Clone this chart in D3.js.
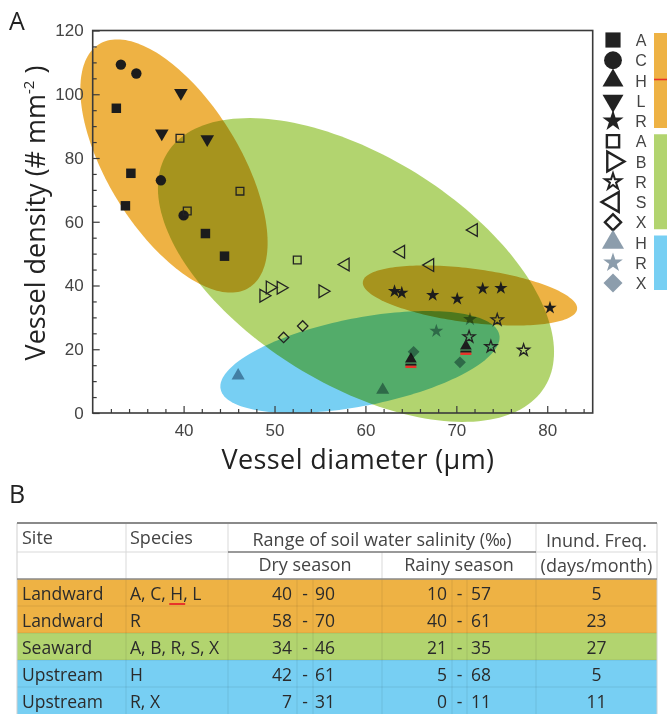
<!DOCTYPE html>
<html><head><meta charset="utf-8">
<script src="https://cdn.jsdelivr.net/npm/d3@7"></script>
<style>
html,body{margin:0;padding:0;background:#fff;}
svg{display:block;isolation:isolate;}
</style></head><body>
<svg id="c" width="667" height="714"></svg>
<script>
// ---------------- DATA ----------------
const xTicks = [40, 50, 60, 70, 80];
const yTicks = [0, 20, 40, 60, 80, 100, 120];

// Landward (filled black symbols)
const landA = [[32.6,95.6],[34.2,75.2],[33.6,65.0],[42.4,56.3],[44.5,49.2]];
const landC = [[33.1,109.3],[34.8,106.5],[37.5,73.0],[40.0,62.0]];
const landH = [[65.0,16.9],[71.05,21.0]];
const landL = [[39.7,100.4],[37.6,87.7],[42.6,85.9]];
const landR = [[63.2,38.2],[64.0,37.7],[67.4,37.0],[70.1,35.8],[72.9,39.0],[74.9,39.2],[80.3,33.0]];
// Seaward (open symbols)
const seaA = [[39.6,86.2],[46.2,69.6],[40.4,63.4],[52.5,48.0]];
const seaB = [[48.8,36.8],[49.5,39.4],[50.7,39.3],[55.3,38.2]];
const seaR = [[74.5,29.2],[71.4,23.9],[73.8,20.8],[77.4,19.7]];
const seaS = [[57.8,46.6],[63.9,50.6],[67.1,46.4],[71.9,57.4]];
const seaX = [[51.0,23.7],[53.1,27.3]];
// Upstream (grey symbols)
const upH = [[46.0,11.7],[61.9,7.2]];
const upR = [[67.8,25.7],[71.5,29.4]];
const upX = [[65.3,19.2],[70.4,15.9]];

// Group ellipses in data units: centre, and two conjugate semi-axis vectors
const ellSeaward  = {c:[58.96,44.86], u:[20.76,-36.71], v:[-6.61,-30.40]};
const ellLandward = {c:[38.94,77.49], u:[8.24,-38.21],  v:[-6.18,-10.85]};
const ellLandR    = {c:[71.50,36.86], u:[11.78,-4.30],  v:[-0.38,-8.40]};
const ellUpstream = {c:[59.40,16.00], u:[15.33,8.50],   v:[0.92,-13.55]};

// Legend
const legendLetters = ['A','C','H','L','R','A','B','R','S','X','H','R','X'];

// Table B
const tableSite    = ['Landward','Landward','Seaward','Upstream','Upstream'];
const tableSpecies = ['A, C, H, L','R','A, B, R, S, X','H','R, X'];
const dryMin   = [40, 58, 34, 42, 7];
const dryMax   = [90, 70, 46, 61, 31];
const rainyMin = [10, 40, 21, 5, 0];
const rainyMax = [57, 61, 35, 68, 11];
const inundFreq = [5, 23, 27, 5, 11];

// ---------------- STYLE ----------------
const COL = {land:'#EEB244', sea:'#B2D46F', up:'#77CFF3', grey:'#8C9DAC', red:'#E8342A', ink:'#1c1c1c'};
const svg = d3.select('#c');
const FONT_AX = "'Liberation Sans', Arial, sans-serif";
const FONT_T = "'Open Sans', sans-serif";

const x = d3.scaleLinear().domain([30,85]).range([92.7,592.7]);
const y = d3.scaleLinear().domain([0,120]).range([413,30.5]);

// ---- ellipses ----
const ellLayer = svg.append('g');
const ellList = [
  {e:ellSeaward, fill:COL.sea, blend:'normal'},
  {e:ellLandward, fill:COL.land, blend:'multiply'},
  {e:ellLandR, fill:COL.land, blend:'multiply'},
  {e:ellUpstream, fill:COL.up, blend:'multiply'}
];
const lineGen = d3.line().x(p=>x(p[0])).y(p=>y(p[1])).curve(d3.curveLinearClosed);
ellList.forEach(o=>{
  const e=o.e;
  const pts = d3.range(0,360,2).map(a=>{const t=a*Math.PI/180;
    return [e.c[0]+e.u[0]*Math.cos(t)+e.v[0]*Math.sin(t), e.c[1]+e.u[1]*Math.cos(t)+e.v[1]*Math.sin(t)];});
  ellLayer.append('path').attr('d',lineGen(pts)).attr('fill',o.fill).style('mix-blend-mode',o.blend);
});

// ---- axes ----
function styleAxis(g){
  g.selectAll('.domain').remove();
  g.selectAll('line').attr('stroke','#3a3a3a').attr('stroke-width',1.2);
  g.selectAll('text').attr('font-family',FONT_AX).attr('font-size',17).attr('fill','#444');
}
const gx = svg.append('g').attr('transform',`translate(0,${y(0)})`)
  .call(d3.axisBottom(x).tickValues(xTicks).tickSize(-7).tickPadding(11).tickFormat(d3.format('d')));
styleAxis(gx);
const gxm = svg.append('g').attr('transform',`translate(0,${y(0)})`)
  .call(d3.axisBottom(x).tickValues(d3.range(32,85,2).filter(v=>v%10)).tickSize(-4).tickFormat(''));
styleAxis(gxm);
const gy = svg.append('g').attr('transform',`translate(${x(30)},0)`)
  .call(d3.axisLeft(y).tickValues(yTicks).tickSize(-7).tickPadding(9).tickFormat(d3.format('d')));
styleAxis(gy);
const gym = svg.append('g').attr('transform',`translate(${x(30)},0)`)
  .call(d3.axisLeft(y).tickValues(d3.range(5,120,5).filter(v=>v%20)).tickSize(-4).tickFormat(''));
styleAxis(gym);
svg.append('rect').attr('x',x(30)).attr('y',y(120)).attr('width',x(85)-x(30)).attr('height',y(0)-y(120))
  .attr('fill','none').attr('stroke','#3a3a3a').attr('stroke-width',1.6);

// ---- symbols ----
const SHAPES = {
  square:{t:d3.symbolSquare, r:0}, circle:{t:d3.symbolCircle, r:0},
  triUp:{t:d3.symbolTriangle, r:0}, triDown:{t:d3.symbolTriangle, r:180},
  star:{t:d3.symbolStar, r:0}, triRight:{t:d3.symbolTriangle, r:90},
  triLeft:{t:d3.symbolTriangle, r:-90}, diamond:{t:d3.symbolSquare, r:45}
};
const series = [
  {pts:landA, shape:'square', kind:'land', size:90},
  {pts:landC, shape:'circle', kind:'land', size:85},
  {pts:landH, shape:'triUp', kind:'landH', size:60},
  {pts:landL, shape:'triDown', kind:'land', size:80},
  {pts:landR, shape:'star', kind:'land', size:55},
  {pts:seaA, shape:'square', kind:'sea', size:60},
  {pts:seaB, shape:'triRight', kind:'sea', size:70},
  {pts:seaR, shape:'star', kind:'sea', size:45},
  {pts:seaS, shape:'triLeft', kind:'sea', size:70},
  {pts:seaX, shape:'diamond', kind:'sea', size:55},
  {pts:upH, shape:'triUp', kind:'up', size:75},
  {pts:upR, shape:'star', kind:'up', size:60},
  {pts:upX, shape:'diamond', kind:'up', size:70}
];
function paint(sel, kind, sw){
  if(kind==='sea'){ sel.attr('fill','none').attr('stroke','#222').attr('stroke-width',sw); }
  else if(kind==='up'){ sel.attr('fill',COL.grey); }
  else { sel.attr('fill',COL.ink); }
}
const ptLayer = svg.append('g');
series.forEach(s=>{
  const sh = SHAPES[s.shape];
  if(s.kind==='landH'){
    s.pts.forEach(p=>{
      ptLayer.append('rect').attr('x',x(p[0])-5.5).attr('y',y(p[1])+4.5).attr('width',11).attr('height',2.2).attr('fill',COL.ink);
      ptLayer.append('rect').attr('x',x(p[0])-5.5).attr('y',y(p[1])+6.5).attr('width',11).attr('height',2.4).attr('fill',COL.red);
    });
  }
  const g = ptLayer.selectAll(null).data(s.pts).enter().append('path')
    .attr('d', d3.symbol().type(sh.t).size(s.size)())
    .attr('transform', p=>`translate(${x(p[0])},${y(p[1])}) rotate(${sh.r})`);
  paint(g, s.kind==='landH'?'land':s.kind, 1.3);
  if(s.kind==='up') g.style('mix-blend-mode','multiply');
});

// ---- axis titles & panel letters ----
svg.append('text').attr('x',358).attr('y',469).attr('text-anchor','middle')
  .attr('font-family',FONT_T).attr('font-size',27).attr('letter-spacing',0.4).attr('fill','#222')
  .text('Vessel diameter (\u00B5m)');
const yt = svg.append('text').attr('transform','translate(45,213) rotate(-90)').attr('text-anchor','middle')
  .attr('font-family',FONT_T).attr('font-size',27).attr('fill','#222');
yt.append('tspan').text('Vessel density (# mm');
yt.append('tspan').attr('font-size',15).attr('dy',-11).text('-2');
yt.append('tspan').attr('dy',11).text(' )');
svg.append('text').attr('x',9).attr('y',30).attr('font-family',FONT_T).attr('font-size',25).attr('fill','#222').text('A');
svg.append('text').attr('x',9).attr('y',503).attr('font-family',FONT_T).attr('font-size',25).attr('fill','#222').text('B');

// ---- legend ----
const legShapes = ['square','circle','triUp','triDown','star','square','triRight','star','triLeft','diamond','triUp','star','diamond'];
const legKinds  = ['land','land','land','land','land','sea','sea','sea','sea','sea','up','up','up'];
const legSizes  = [230,250,190,190,140,150,170,80,170,130,210,120,180];
const legY = i => 40 + i*20.25;
const lg = svg.append('g');
legendLetters.forEach((L,i)=>{
  const sh = SHAPES[legShapes[i]];
  const p = lg.append('path').attr('d', d3.symbol().type(sh.t).size(legSizes[i])())
    .attr('transform',`translate(613,${legY(i)}) rotate(${sh.r})`);
  paint(p, legKinds[i], legShapes[i]==='star'?2:2.4);
  if(legKinds[i]==='land') p.attr('fill','#222');
  lg.append('text').attr('x',641).attr('y',legY(i)+6).attr('text-anchor','middle')
    .attr('font-family',FONT_AX).attr('font-size',16).attr('fill','#444').text(L);
});
const barDefs = [{c:COL.land,a:0,b:4},{c:COL.sea,a:5,b:9},{c:COL.up,a:10,b:12}];
barDefs.forEach(b=>{
  lg.append('rect').attr('x',654).attr('y',legY(b.a)-7).attr('width',14)
    .attr('height',legY(b.b)-legY(b.a)+14).attr('fill',b.c);
});
lg.append('line').attr('x1',654).attr('x2',667).attr('y1',legY(2)-1).attr('y2',legY(2)-1)
  .attr('stroke',COL.red).attr('stroke-width',1.6);

// ---------------- TABLE ----------------
const T = {x0:17, x1:657, cSite:126, cSpec:228, cRain:382, cInund:536,
           dSep:[297,313], rSep:[452,467], top:523, h1:552, h2:579, rowH:27};
const tb = svg.append('g');
const siteColor = s => s==='Landward'?COL.land:(s==='Seaward'?COL.sea:COL.up);
tableSite.forEach((s,i)=>{
  const top = T.h2 + i*T.rowH;
  tb.append('rect').attr('x',T.x0).attr('y',top).attr('width',T.x1-T.x0).attr('height',T.rowH).attr('fill',siteColor(s));
});
const nRows = tableSite.length;
const yEnd = T.h2 + nRows*T.rowH;
const faint = 'rgba(0,0,0,0.09)';
[T.cSite,T.cSpec,...T.dSep,T.cRain,...T.rSep,T.cInund].forEach(cx=>{
  tb.append('line').attr('x1',cx).attr('x2',cx).attr('y1',T.h2).attr('y2',yEnd).attr('stroke',faint);
});
d3.range(1,nRows).forEach(i=>{
  tb.append('line').attr('x1',T.x0).attr('x2',T.x1).attr('y1',T.h2+i*T.rowH).attr('y2',T.h2+i*T.rowH).attr('stroke',faint);
});
const light = '#d9d9d9';
[T.cSite,T.cSpec,T.cInund].forEach(cx=>{
  tb.append('line').attr('x1',cx).attr('x2',cx).attr('y1',T.top).attr('y2',T.h2).attr('stroke',light);
});
tb.append('line').attr('x1',T.cRain).attr('x2',T.cRain).attr('y1',T.h1).attr('y2',T.h2).attr('stroke',light);
tb.append('line').attr('x1',T.x0).attr('x2',T.cSpec).attr('y1',T.h1).attr('y2',T.h1).attr('stroke',light);
tb.append('line').attr('x1',T.cInund).attr('x2',T.x1).attr('y1',T.h1).attr('y2',T.h1).attr('stroke',light);
tb.append('line').attr('x1',T.cSpec).attr('x2',T.cInund).attr('y1',T.h1).attr('y2',T.h1).attr('stroke','#777').attr('stroke-width',1.5);
[T.x0,T.x1].forEach(cx=>{
  tb.append('line').attr('x1',cx).attr('x2',cx).attr('y1',T.top).attr('y2',yEnd).attr('stroke','#cfcfcf');
});
tb.append('line').attr('x1',T.x0).attr('x2',T.x1).attr('y1',T.top).attr('y2',T.top).attr('stroke','#8a8a8a').attr('stroke-width',2);
tb.append('line').attr('x1',T.x0).attr('x2',T.x1).attr('y1',T.h2).attr('y2',T.h2).attr('stroke','#8a8a8a').attr('stroke-width',1.6);

function ttext(xp, yp, str, anchor, size, fill){
  return tb.append('text').attr('x',xp).attr('y',yp).attr('text-anchor',anchor||'start')
    .attr('font-family',FONT_T).attr('font-size',size||17.5).attr('fill',fill||'#2b2b2b').text(str);
}
ttext(22,544,'Site','start',18,'#444');
ttext(130,544,'Species','start',18,'#444');
ttext((T.cSpec+T.cInund)/2,546,'Range of soil water salinity (\u2030)','middle',18,'#444');
ttext((T.cInund+T.x1)/2,547,'Inund. Freq.','middle',18,'#444');
ttext((T.cSpec+T.cRain)/2,571,'Dry season','middle',18,'#444');
ttext((T.cRain+T.cInund)/2,571,'Rainy season','middle',18,'#444');
ttext((T.cInund+T.x1)/2,572,'(days/month)','middle',18,'#444');
tableSite.forEach((s,i)=>{
  const bl = T.h2 + i*T.rowH + 21;
  ttext(22,bl,s);
  const sp = ttext(130,bl,tableSpecies[i]);
  const hi = tableSpecies[i].indexOf('H,');
  if(hi>=0){
    const n = sp.node();
    const x0 = 130 + n.getSubStringLength(0,hi);
    const w = n.getSubStringLength(hi,1);
    tb.append('line').attr('x1',x0-1).attr('x2',x0+w+2).attr('y1',bl+4).attr('y2',bl+4).attr('stroke',COL.red).attr('stroke-width',2);
  }
  ttext(T.dSep[0]-5,bl,dryMin[i],'end');
  ttext((T.dSep[0]+T.dSep[1])/2,bl,'-','middle');
  ttext(T.dSep[1]+2,bl,dryMax[i],'start');
  ttext(T.rSep[0]-5,bl,rainyMin[i],'end');
  ttext((T.rSep[0]+T.rSep[1])/2,bl,'-','middle');
  ttext(T.rSep[1]+4,bl,rainyMax[i],'start');
  ttext((T.cInund+T.x1)/2,bl,inundFreq[i],'middle');
});
</script>
</body></html>
